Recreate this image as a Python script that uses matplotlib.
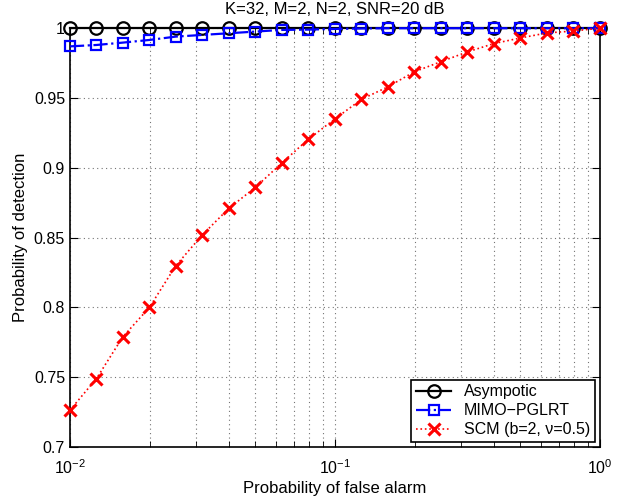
import numpy as np
import matplotlib
matplotlib.use("Agg")
import matplotlib.pyplot as plt
from matplotlib.ticker import FixedLocator, FuncFormatter, LogLocator, NullFormatter

plt.rcParams['font.family'] = ['Liberation Sans', 'DejaVu Sans']
plt.rcParams['mathtext.fontset'] = 'custom'
plt.rcParams['mathtext.rm'] = 'Liberation Sans'
plt.rcParams['mathtext.it'] = 'Liberation Sans:italic'

# data
pfa = [10 ** (-2 + k / 10) for k in range(21)]
asymptotic = [1.0] * 21
mimo_pglrt = [0.987, 0.988, 0.9897, 0.9916, 0.994, 0.9952, 0.9964, 0.9976, 0.9988, 0.999,
              0.9995, 0.9998, 1.0, 1.0, 1.0, 1.0, 1.0, 1.0, 1.0, 1.0, 1.0]
scm = [0.7264, 0.749, 0.779, 0.80, 0.83, 0.852, 0.871, 0.886, 0.9035, 0.9205,
       0.935, 0.949, 0.958, 0.9688, 0.976, 0.983, 0.989, 0.993, 0.9966, 0.998, 1.0]
yticks = [0.7, 0.75, 0.8, 0.85, 0.9, 0.95, 1.0]

fig = plt.figure(figsize=(6.3, 5.04), dpi=100)
ax = fig.add_axes([0.111, 0.113, 0.841, 0.831])

ax.semilogx(pfa, asymptotic, '-o', color='black', lw=1.6, ms=9, mfc='none', mew=1.6,
            label='Asympotic', clip_on=False, zorder=3)
ax.semilogx(pfa, mimo_pglrt, '-.s', color='blue', lw=1.6, ms=7, mfc='none', mew=1.6,
            label='MIMO\u2212PGLRT', clip_on=False, zorder=4)
ax.semilogx(pfa, scm, ':x', color='red', lw=1.2, ms=8, mew=2.2,
            label='SCM (b=2, \u03bd=0.5)', clip_on=False, zorder=5)

ax.set_xlim(1e-2, 1)
ax.set_ylim(0.7, 1.0)
ax.yaxis.set_major_locator(FixedLocator(yticks))
ax.yaxis.set_major_formatter(FuncFormatter(lambda v, p: '%g' % v))
ax.xaxis.set_minor_locator(LogLocator(base=10, subs=np.arange(2, 10)))
ax.xaxis.set_minor_formatter(NullFormatter())

ax.grid(True, which='major', linestyle=(0, (1, 3)), color='0.45', lw=0.8)
ax.grid(True, which='minor', axis='x', linestyle=(0, (1, 3)), color='0.45', lw=0.8)
ax.tick_params(which='both', direction='in', top=True, right=True, labelsize=11.5)
ax.tick_params(which='major', length=6)
ax.tick_params(which='minor', length=4)
ax.tick_params(axis='x', which='both', pad=8)
for s in ax.spines.values():
    s.set_linewidth(1.2)

ax.set_xlabel('Probability of false alarm', fontsize=12, labelpad=3)
ax.set_ylabel('Probability of detection', fontsize=12)
ax.set_title('K=32, M=2, N=2, SNR=20 dB', fontsize=12, pad=10)

leg = ax.legend(loc='lower right', fontsize=11.5, fancybox=False, framealpha=1,
                edgecolor='black', borderaxespad=0.3, handlelength=2.2,
                borderpad=0.3, labelspacing=0.25)
leg.get_frame().set_linewidth(1.2)

fig.savefig('out.png', dpi=100)
